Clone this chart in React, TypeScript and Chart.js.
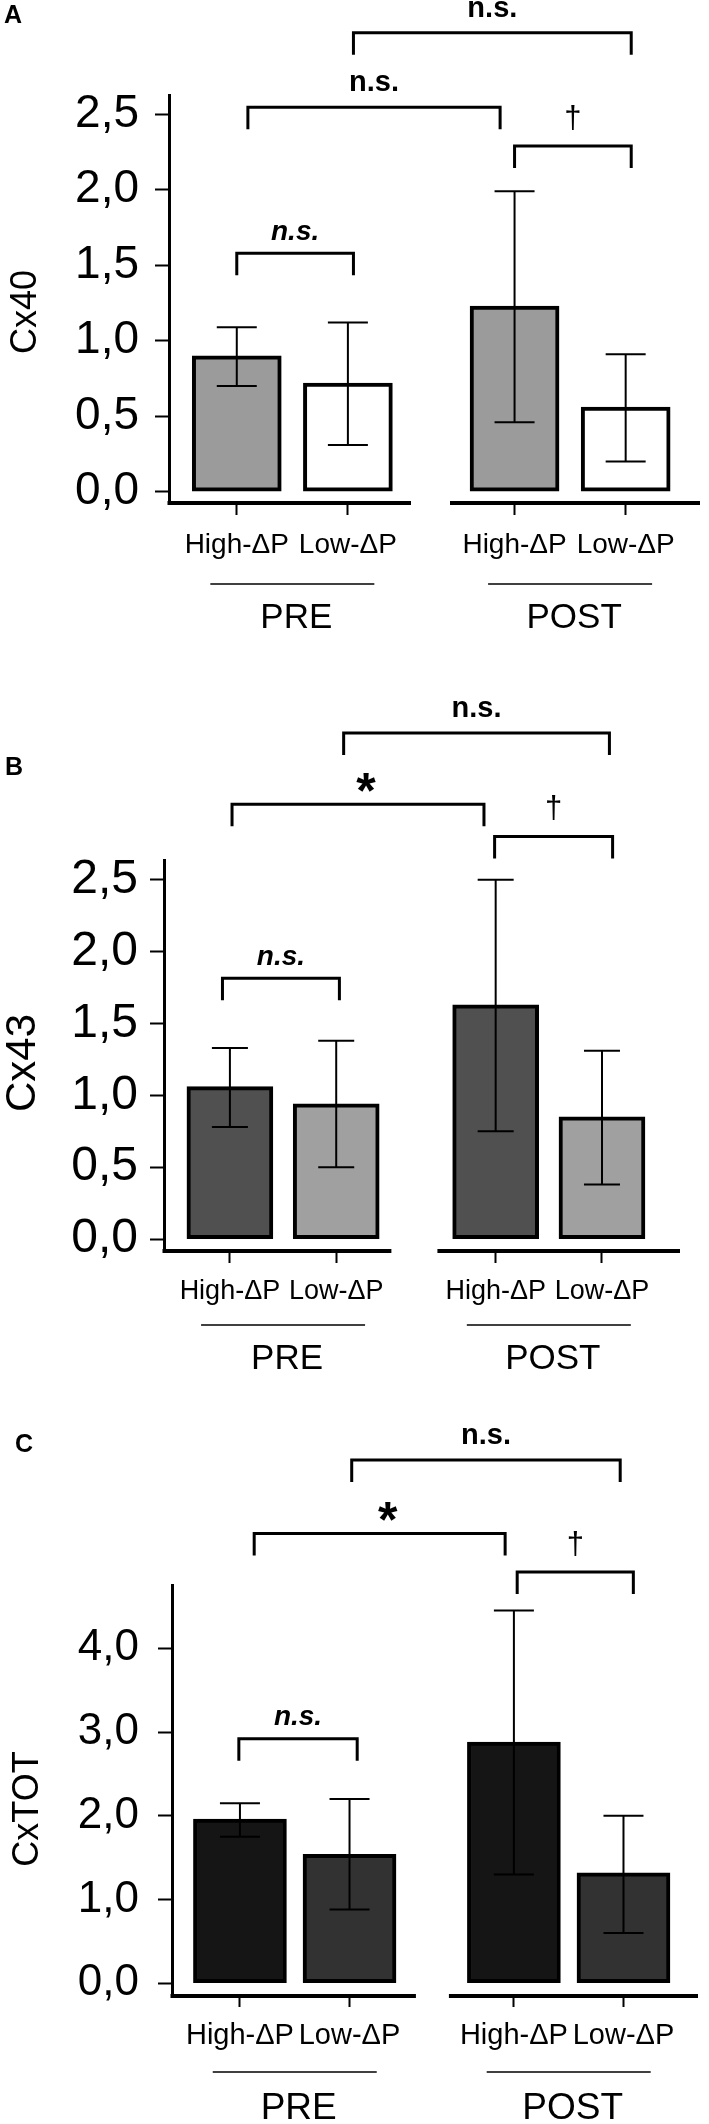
import React, { useEffect, useRef } from 'react';
import { Chart, registerables } from 'chart.js';

Chart.register(...registerables);

const FONT = '"Liberation Sans", Arial, Helvetica, sans-serif';
const WIDTH = 709;

// ---------- shared categories ----------
const categories = ['High-ΔP', 'Low-ΔP', 'High-ΔP', 'Low-ΔP'];
const xPositions = [0, 1, 2.5, 3.5];
const groupLabels = ['PRE', 'POST'];
const groupCenters = [0.5, 3.0];

// ---------- Panel A : Cx40 ----------
const cx40Mean = [0.9, 0.72, 1.23, 0.56];
const cx40Low = [0.7, 0.31, 0.46, 0.2];
const cx40High = [1.09, 1.12, 1.99, 0.91];
const cx40Ticks = [0, 0.5, 1, 1.5, 2, 2.5];
const cx40BracketFrom = [1.05, 0.1, 2.5, 0];
const cx40BracketTo = [3.55, 2.37, 3.55, 1.05];
const cx40BracketY = [3.04, 2.547, 2.29, 1.58];
const cx40BracketText = ['n.s.', 'n.s.', '†', 'n.s.'];
const cx40BracketKind = ['bold', 'bold', 'dagger', 'italic'];

// ---------- Panel B : Cx43 ----------
const cx43Mean = [1.06, 0.94, 1.63, 0.85];
const cx43Low = [0.78, 0.5, 0.75, 0.38];
const cx43High = [1.33, 1.38, 2.5, 1.31];
const cx43Ticks = [0, 0.5, 1, 1.5, 2, 2.5];
const cx43BracketFrom = [1.07, 0.02, 2.49, -0.07];
const cx43BracketTo = [3.57, 2.39, 3.6, 1.03];
const cx43BracketY = [3.52, 3.025, 2.8, 1.815];
const cx43BracketText = ['n.s.', '*', '†', 'n.s.'];
const cx43BracketKind = ['bold', 'star', 'dagger', 'italic'];

// ---------- Panel C : CxTOT ----------
const cxtotMean = [1.96, 1.54, 2.88, 1.32];
const cxtotLow = [1.75, 0.88, 1.3, 0.6];
const cxtotHigh = [2.15, 2.2, 4.45, 2.0];
const cxtotTicks = [0, 0.5, 1, 1.5, 2, 2.5, 3, 3.5, 4, 4.5];
const cxtotBracketFrom = [1.02, 0.13, 2.53, -0.01];
const cxtotBracketTo = [3.47, 2.42, 3.59, 1.07];
const cxtotBracketY = [6.25, 5.37, 4.91, 2.92];
const cxtotBracketText = ['n.s.', '*', '†', 'n.s.'];
const cxtotBracketKind = ['bold', 'star', 'dagger', 'italic'];

type Panel = {
  letter: string;
  title: string;
  top: number;
  height: number;
  area: { top: number; bottom: number; left: number; right: number };
  yMin: number;
  yMax: number;
  xMin: number;
  xMax: number;
  gapFrom: number;
  gapTo: number;
  means: number[];
  lows: number[];
  highs: number[];
  yTicks: number[];
  labelEvery: number;
  bFrom: number[];
  bTo: number[];
  bY: number[];
  bText: string[];
  bKind: string[];
  colors: string[];
  barThickness: number;
  capHalf: number;
  tickFont: number;
  tickPad: number;
  catFont: number;
  catPad: number;
  xTickLen: number;
  groupFont: number;
  titleFont: number;
  titlePos: [number, number];
  letterPos: [number, number];
  underlineOff: number;
  groupOff: number;
};

const panels: Panel[] = [
  {
    letter: 'A', title: 'Cx40', top: 0, height: 680,
    area: { top: 95, bottom: 503, left: 169, right: 700 },
    yMin: -0.075, yMax: 2.628, xMin: -0.61, xMax: 4.169, gapFrom: 1.568, gapTo: 1.919,
    means: cx40Mean, lows: cx40Low, highs: cx40High, yTicks: cx40Ticks, labelEvery: 0.5,
    bFrom: cx40BracketFrom, bTo: cx40BracketTo, bY: cx40BracketY, bText: cx40BracketText, bKind: cx40BracketKind,
    colors: ['#9b9b9b', '#ffffff', '#9b9b9b', '#ffffff'],
    barThickness: 89, capHalf: 20, tickFont: 46, tickPad: 16, catFont: 28, catPad: 13, xTickLen: 12,
    groupFont: 35, titleFont: 36, titlePos: [23, 312], letterPos: [4, 23],
    underlineOff: 81, groupOff: 113,
  },
  {
    letter: 'B', title: 'Cx43', top: 680, height: 730,
    area: { top: 180, bottom: 571, left: 164, right: 680 },
    yMin: -0.083, yMax: 2.637, xMin: -0.62, xMax: 4.234, gapFrom: 1.519, gapTo: 1.952,
    means: cx43Mean, lows: cx43Low, highs: cx43High, yTicks: cx43Ticks, labelEvery: 0.5,
    bFrom: cx43BracketFrom, bTo: cx43BracketTo, bY: cx43BracketY, bText: cx43BracketText, bKind: cx43BracketKind,
    colors: ['#505050', '#a0a0a0', '#505050', '#a0a0a0'],
    barThickness: 86, capHalf: 18, tickFont: 48, tickPad: 12, catFont: 27, catPad: 12, xTickLen: 12,
    groupFont: 35, titleFont: 42, titlePos: [20, 383], letterPos: [5, 95],
    underlineOff: 74, groupOff: 106,
  },
  {
    letter: 'C', title: 'CxTOT', top: 1410, height: 714,
    area: { top: 175, bottom: 586, left: 172, right: 698 },
    yMin: -0.152, yMax: 4.756, xMin: -0.62, xMax: 4.18, gapFrom: 1.606, gapTo: 1.907,
    means: cxtotMean, lows: cxtotLow, highs: cxtotHigh, yTicks: cxtotTicks, labelEvery: 1,
    bFrom: cxtotBracketFrom, bTo: cxtotBracketTo, bY: cxtotBracketY, bText: cxtotBracketText, bKind: cxtotBracketKind,
    colors: ['#151515', '#323232', '#151515', '#323232'],
    barThickness: 93, capHalf: 20, tickFont: 44, tickPad: 19, catFont: 29, catPad: 12, xTickLen: 11,
    groupFont: 37, titleFont: 36, titlePos: [25, 399], letterPos: [15, 42],
    underlineOff: 76, groupOff: 110,
  },
];

function drawCentered(ctx: CanvasRenderingContext2D, text: string, x: number, cy: number, font: string) {
  ctx.font = font;
  ctx.textAlign = 'center';
  ctx.textBaseline = 'alphabetic';
  const m = ctx.measureText(text);
  const y = cy + (m.actualBoundingBoxAscent - m.actualBoundingBoxDescent) / 2;
  ctx.fillText(text, x, y);
}

function line(ctx: CanvasRenderingContext2D, x1: number, y1: number, x2: number, y2: number) {
  ctx.beginPath();
  ctx.moveTo(x1, y1);
  ctx.lineTo(x2, y2);
  ctx.stroke();
}

function PanelChart({ cfg }: { cfg: Panel }) {
  const ref = useRef<HTMLCanvasElement>(null);
  useEffect(() => {
    const canvas = ref.current;
    if (!canvas) return;
    const xAxisH = 70;
    const a = cfg.area;

    const annot = {
      id: 'annot' + cfg.letter,
      afterDraw(chart: any) {
        const ctx: CanvasRenderingContext2D = chart.ctx;
        const xs = chart.scales.x;
        const ys = chart.scales.y;
        const ca = chart.chartArea;
        ctx.save();
        ctx.strokeStyle = '#000';
        ctx.fillStyle = '#000';
        ctx.lineCap = 'butt';

        // broken x axis
        ctx.lineWidth = 4;
        line(ctx, xs.getPixelForValue(cfg.xMin) - 1.5, ca.bottom, xs.getPixelForValue(cfg.gapFrom), ca.bottom);
        line(ctx, xs.getPixelForValue(cfg.gapTo), ca.bottom, xs.getPixelForValue(cfg.xMax), ca.bottom);

        // error bars
        const meta = chart.getDatasetMeta(0);
        ctx.lineWidth = 2;
        meta.data.forEach((bar: any, i: number) => {
          const x = bar.x;
          const yLo = ys.getPixelForValue(cfg.lows[i]);
          const yHi = ys.getPixelForValue(cfg.highs[i]);
          line(ctx, x, yLo, x, yHi);
          line(ctx, x - cfg.capHalf, yLo, x + cfg.capHalf, yLo);
          line(ctx, x - cfg.capHalf, yHi, x + cfg.capHalf, yHi);
        });

        // significance brackets
        const leg = 22;
        cfg.bY.forEach((yv, i) => {
          const x1 = xs.getPixelForValue(cfg.bFrom[i]);
          const x2 = xs.getPixelForValue(cfg.bTo[i]);
          const y = ys.getPixelForValue(yv);
          ctx.lineWidth = 3;
          ctx.lineJoin = 'miter';
          ctx.beginPath();
          ctx.moveTo(x1, y + leg);
          ctx.lineTo(x1, y);
          ctx.lineTo(x2, y);
          ctx.lineTo(x2, y + leg);
          ctx.stroke();
          const mx = (x1 + x2) / 2;
          const kind = cfg.bKind[i];
          if (kind === 'bold') drawCentered(ctx, cfg.bText[i], mx, y - 24, `bold 29px ${FONT}`);
          else if (kind === 'italic') drawCentered(ctx, cfg.bText[i], mx, y - 21, `italic bold 28px ${FONT}`);
          else if (kind === 'star') drawCentered(ctx, cfg.bText[i], mx + 8, y - 22, `bold 50px ${FONT}`);
          else drawCentered(ctx, cfg.bText[i], mx, y - 29, `31px ${FONT}`);
        });

        // group underlines and labels
        groupLabels.forEach((g, i) => {
          const cx = xs.getPixelForValue(groupCenters[i]);
          ctx.lineWidth = 1.5;
          line(ctx, cx - 82, ca.bottom + cfg.underlineOff, cx + 82, ca.bottom + cfg.underlineOff);
          drawCentered(ctx, g, cx + 4, ca.bottom + cfg.groupOff, `${cfg.groupFont}px ${FONT}`);
        });

        // y title
        ctx.save();
        ctx.translate(cfg.titlePos[0], cfg.titlePos[1]);
        ctx.rotate(-Math.PI / 2);
        drawCentered(ctx, cfg.title, 0, 0, `${cfg.titleFont}px ${FONT}`);
        ctx.restore();

        // panel letter
        ctx.font = `bold 25px ${FONT}`;
        ctx.textAlign = 'left';
        ctx.textBaseline = 'alphabetic';
        ctx.fillText(cfg.letter, cfg.letterPos[0], cfg.letterPos[1]);

        ctx.restore();
      },
    };

    const chart = new Chart(canvas, {
      type: 'bar',
      data: {
        datasets: [
          {
            data: cfg.means.map((v, i) => ({ x: xPositions[i], y: v })),
            backgroundColor: cfg.colors,
            borderColor: '#000',
            borderWidth: 4,
            borderSkipped: false,
            barThickness: cfg.barThickness,
          } as any,
        ],
      },
      options: {
        responsive: false,
        animation: false,
        layout: {
          padding: {
            top: a.top,
            left: 0,
            right: WIDTH - a.right,
            bottom: cfg.height - a.bottom - xAxisH,
          },
        },
        plugins: {
          legend: { display: false },
          tooltip: { enabled: false },
          title: { display: false },
        },
        scales: {
          x: {
            type: 'linear',
            offset: false,
            min: cfg.xMin,
            max: cfg.xMax,
            afterBuildTicks: (s: any) => {
              s.ticks = xPositions.map((v) => ({ value: v }));
            },
            afterFit: (s: any) => {
              s.height = xAxisH;
            },
            ticks: {
              autoSkip: false,
              maxRotation: 0,
              color: '#000',
              padding: cfg.catPad,
              font: { family: FONT, size: cfg.catFont },
              callback: (v: any) => {
                const idx = xPositions.indexOf(Number(v));
                return idx >= 0 ? categories[idx] : '';
              },
            },
            grid: {
              offset: false,
              drawOnChartArea: false,
              drawTicks: true,
              tickLength: cfg.xTickLen,
              tickWidth: 2,
              tickColor: '#000',
            },
            border: { display: false },
          },
          y: {
            type: 'linear',
            min: cfg.yMin,
            max: cfg.yMax,
            afterBuildTicks: (s: any) => {
              s.ticks = cfg.yTicks.map((v) => ({ value: v }));
            },
            afterFit: (s: any) => {
              s.width = a.left;
            },
            ticks: {
              color: '#000',
              padding: cfg.tickPad,
              font: { family: FONT, size: cfg.tickFont },
              callback: (v: any) => {
                const n = Number(v);
                const r = n / cfg.labelEvery;
                if (Math.abs(r - Math.round(r)) > 1e-6) return '';
                return n.toFixed(1).replace('.', ',');
              },
            },
            grid: {
              drawOnChartArea: false,
              drawTicks: true,
              tickLength: 14,
              tickWidth: 2,
              tickColor: '#000',
            },
            border: { display: true, width: 3, color: '#000' },
          },
        },
      } as any,
      plugins: [annot],
    });
    return () => chart.destroy();
  }, [cfg]);

  return (
    <canvas
      ref={ref}
      width={WIDTH}
      height={cfg.height}
      style={{ position: 'absolute', left: 0, top: cfg.top, width: WIDTH, height: cfg.height }}
    />
  );
}

export default function App() {
  return (
    <div style={{ position: 'absolute', left: 0, top: 0, width: WIDTH, height: 2124, background: '#fff' }}>
      {panels.map((p) => (
        <PanelChart key={p.letter} cfg={p} />
      ))}
    </div>
  );
}
